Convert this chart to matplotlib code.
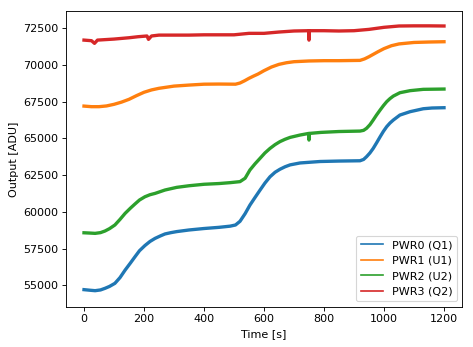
import matplotlib
matplotlib.use("Agg")
import matplotlib.pyplot as plt
from matplotlib.lines import Line2D

# PWR0 (Q1)
t0 = [0, 20, 37, 55, 70, 85, 103, 120, 137, 155, 170, 185, 203, 220, 237, 255, 270,
      290, 309, 350, 400, 450, 487, 505, 520, 537, 553, 570, 587, 603, 620, 637, 653,
      670, 687, 720, 787, 850, 920, 932, 942, 953, 964, 975, 987, 998, 1009, 1020,
      1031, 1053, 1087, 1131, 1160, 1200]
v0 = [54700, 54660, 54630, 54680, 54790, 54920, 55130, 55520, 56030, 56520, 56940,
      57350, 57700, 57980, 58190, 58360, 58490, 58580, 58650, 58760, 58860, 58940,
      59020, 59100, 59350, 59870, 60450, 60970, 61480, 61950, 62380, 62690, 62890,
      63060, 63190, 63320, 63420, 63450, 63470, 63560, 63750, 64000, 64310, 64680,
      65100, 65470, 65790, 66040, 66240, 66580, 66810, 67010, 67060, 67080]

# PWR1 (U1)
t1 = [0, 25, 50, 75, 100, 125, 150, 175, 200, 225, 250, 300, 350, 400, 450, 505, 520,
      535, 550, 565, 580, 600, 625, 650, 675, 700, 750, 800, 850, 920, 935, 950, 965,
      980, 1000, 1025, 1050, 1100, 1150, 1200]
v1 = [67190, 67150, 67150, 67200, 67310, 67460, 67650, 67900, 68130, 68290, 68400,
      68550, 68620, 68680, 68690, 68680, 68760, 68910, 69080, 69230, 69370, 69600,
      69850, 70030, 70140, 70210, 70260, 70280, 70280, 70300, 70400, 70550, 70720,
      70890, 71100, 71300, 71420, 71520, 71550, 71570]

# PWR2 (U2)
t2 = [0, 20, 37, 55, 70, 85, 103, 120, 137, 155, 170, 185, 203, 220, 237, 270, 309,
      350, 400, 450, 487, 520, 537, 553, 570, 587, 603, 620, 637, 653, 670, 687, 720,
      749, 750, 751, 790, 850, 920, 932, 942, 953, 964, 975, 987, 998, 1009, 1020,
      1031, 1053, 1087, 1131, 1200]
v2 = [58570, 58550, 58530, 58580, 58690, 58850, 59100, 59480, 59890, 60250, 60530,
      60800, 61020, 61160, 61250, 61480, 61660, 61770, 61870, 61920, 61980, 62050,
      62280, 62840, 63260, 63640, 64000, 64310, 64570, 64770, 64930, 65060, 65220,
      65330, 64880, 65330, 65400, 65460, 65490, 65540, 65680, 65920, 66240, 66580,
      66920, 67220, 67490, 67700, 67870, 68100, 68240, 68330, 68350]

# PWR3 (Q2)
t3 = [0, 25, 35, 45, 100, 150, 180, 210, 215, 225, 250, 300, 350, 400, 450, 500,
      550, 600, 650, 700, 749, 750, 751, 800, 850, 900, 950, 1000, 1050, 1100, 1150,
      1200]
v3 = [71680, 71640, 71460, 71680, 71750, 71840, 71910, 71960, 71730, 71960, 72020,
      72020, 72020, 72040, 72040, 72040, 72140, 72140, 72230, 72300, 72320, 71680,
      72320, 72320, 72300, 72320, 72410, 72550, 72640, 72650, 72650, 72640]

labels = ["PWR0 (Q1)", "PWR1 (U1)", "PWR2 (U2)", "PWR3 (Q2)"]
colors = ["#1f77b4", "#ff7f0e", "#2ca02c", "#d62728"]

DPI = 80
fig = plt.figure(figsize=(473 / DPI, 347 / DPI), dpi=DPI)
ax = fig.add_axes([66 / 473, 1 - 306.7 / 347, (462.3 - 66) / 473, (306.7 - 11.3) / 347])

for t, v, c, lab in zip([t0, t1, t2, t3], [v0, v1, v2, v3], colors, labels):
    ax.plot(t, v, color=c, lw=3.0, label=lab, solid_joinstyle="round")

handles = [Line2D([], [], color=c, lw=1.5) for c in colors]
ax.legend(handles, labels, loc="lower right")
ax.set_xlabel("Time [s]")
ax.set_ylabel("Output [ADU]")
ax.set_ylim(53540, 73640)
ax.set_xlim(-60, 1261)

fig.savefig("out.png", dpi=DPI)
